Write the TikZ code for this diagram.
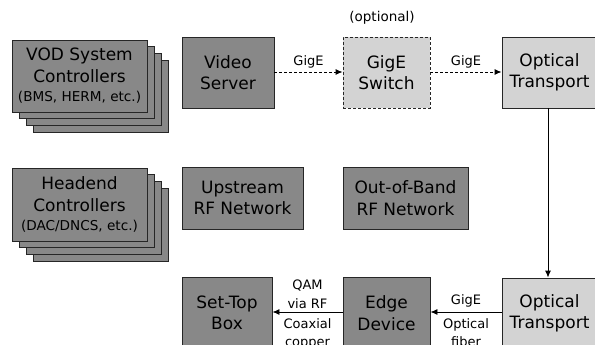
\documentclass[tikz,border=0pt]{standalone}
\usepackage{fontspec}
\setmainfont{DejaVu Sans}
\usetikzlibrary{arrows.meta}
\definecolor{darkbox}{HTML}{888888}
\definecolor{lightbox}{HTML}{D3D3D3}
\begin{document}
\begin{tikzpicture}[x=1pt,y=-1pt,
  box/.style={draw=black!85, line width=0.9pt, fill=darkbox, rectangle, inner sep=0pt,
    align=center, font=\fontsize{17}{21.5}\selectfont},
  litebox/.style={box, fill=lightbox},
  lbl/.style={font=\fontsize{13}{18.5}\selectfont, inner sep=1pt, align=center},
  link/.style={line width=0.9pt, -{Latex[length=7pt,width=6pt]}},
  dlink/.style={link, dashed, dash pattern=on 3pt off 2pt}]
\useasboundingbox (0,0) rectangle (595,345);

% stacked controller boxes
\foreach \d in {21,14,7}{
  \draw[draw=black!85, line width=0.9pt, fill=darkbox] (12+\d,39+\d) rectangle (147+\d,111+\d);
  \draw[draw=black!85, line width=0.9pt, fill=darkbox] (12+\d,167+\d) rectangle (147+\d,240+\d);
}
\node[box, minimum width=135pt, minimum height=72pt] (vod) at (79.5,76)
  {VOD System\\Controllers\\[-2pt]{\fontsize{13.6}{16}\selectfont(BMS, HERM, etc.)}};
\node[box, minimum width=135pt, minimum height=73pt] (head) at (79.5,204.5)
  {Headend\\Controllers\\[-2pt]{\fontsize{13.6}{16}\selectfont(DAC/DNCS, etc.)}};

% top row
\node[box, minimum width=92pt, minimum height=71pt] (vs) at (228,72.5) {Video\\Server};
\node[litebox, dashed, dash pattern=on 3pt off 2pt, minimum width=87pt, minimum height=71pt] (sw) at (386.5,72.5) {GigE\\Switch};
\node[lbl, font=\fontsize{13.5}{16}\selectfont] (opt) at (382,18) {(optional)};
\node[litebox, minimum width=95pt, minimum height=71pt] (ot1) at (549.5,72.5) {Optical\\Transport};

% middle row
\node[box, minimum width=121pt, minimum height=62pt] (up) at (242.5,198) {Upstream\\RF Network};
\node[box, minimum width=125pt, minimum height=62pt] (oob) at (405.5,198) {Out-of-Band\\RF Network};

% bottom row
\node[box, minimum width=90pt, minimum height=71pt] (stb) at (227,313) {Set-Top\\Box};
\node[box, minimum width=87pt, minimum height=71pt] (edge) at (386.5,313) {Edge\\Device};
\node[litebox, minimum width=95pt, minimum height=71pt] (ot2) at (549.5,313.5) {Optical\\Transport};

% connectors
\draw[dlink] (vs.east |- 0,72) -- node[lbl, above=2pt] {GigE} (sw.west |- 0,72);
\draw[dlink] (sw.east |- 0,72) -- node[lbl, above=2pt] {GigE} (ot1.west |- 0,72);
\draw[link] (ot1.south -| 548,0) -- (ot2.north -| 548,0);
\draw[link] (ot2.west |- 0,312) -- node[lbl, above=3pt] {GigE} node[lbl, below=5pt] {Optical\\fiber} (edge.east |- 0,312);
\draw[link] (edge.west |- 0,312) -- node[lbl, above=2pt] {QAM\\via RF} node[lbl, below=5pt] {Coaxial\\copper} (stb.east |- 0,312);
\end{tikzpicture}
\end{document}
